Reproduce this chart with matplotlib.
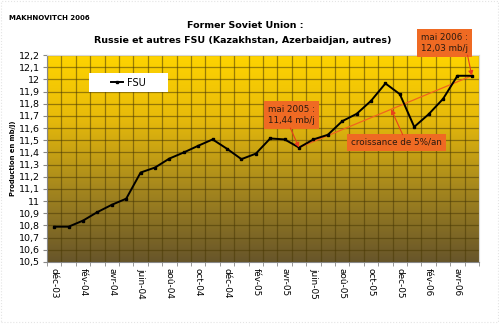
import numpy as np
import matplotlib
matplotlib.use("Agg")
import matplotlib.pyplot as plt
from matplotlib.colors import LinearSegmentedColormap
from matplotlib.patches import Rectangle

# Monthly production, déc-03 .. mai-06 (mb/j)
months = ["déc-03", "janv-04", "fév-04", "mars-04", "avr-04", "mai-04", "juin-04",
          "juil-04", "aoû-04", "sept-04", "oct-04", "nov-04", "déc-04", "janv-05",
          "fév-05", "mars-05", "avr-05", "mai-05", "juin-05", "juil-05", "aoû-05",
          "sept-05", "oct-05", "nov-05", "dec-05", "janv-06", "fév-06", "mars-06",
          "avr-06", "mai-06"]
fsu = [10.79, 10.79, 10.84, 10.91, 10.97, 11.02, 11.235, 11.276, 11.35, 11.40,
       11.455, 11.507, 11.43, 11.345, 11.39, 11.515, 11.507, 11.44, 11.507, 11.545,
       11.657, 11.717, 11.824, 11.967, 11.879, 11.61, 11.714, 11.84, 12.03, 12.03]
series_name = "FSU"
y_ticks = [round(10.5 + 0.1 * k, 1) for k in range(18)]

x = np.arange(len(months))
i0 = months.index("mai-05")
i1 = months.index("mai-06")

fig = plt.figure(figsize=(4.99, 3.24), dpi=100, facecolor="white")
ax = fig.add_axes([0.0942, 0.1914, 0.8658, 0.6386])

xlim = (-0.5, len(months) - 0.5)
ylim = (10.5, 12.2)
ax.set_xlim(*xlim)
ax.set_ylim(*ylim)

# yellow-to-brown gradient plot background
cmap = LinearSegmentedColormap.from_list(
    "bg", [(0.0, "#67552a"), (0.35, "#a4861e"), (0.7, "#e8bb0a"), (1.0, "#ffd400")])
grad = np.linspace(0, 1, 256).reshape(-1, 1)
ax.imshow(grad, aspect="auto", cmap=cmap, origin="lower",
          extent=(*xlim, *ylim), zorder=0)

# grid: every 0.1 horizontally, one cell per month vertically
for yv in y_ticks:
    ax.axhline(yv, color="#4a3a05", lw=0.9, alpha=0.55, zorder=1)
for xv in np.arange(-0.5, len(months), 1.0):
    ax.axvline(xv, color="#4a3a05", lw=0.9, alpha=0.55, zorder=1)

# 5%/an growth line between the two annotated months
ax.plot([i0, i1], [fsu[i0], fsu[i1]], color="#f0641e", lw=0.9, zorder=2)

line, = ax.plot(x, fsu, color="black", lw=1.4, marker="s", ms=1.8, zorder=3,
                label=series_name)

ax.set_yticks(y_ticks)
ax.set_yticklabels([("%g" % v).replace(".", ",") for v in y_ticks], fontsize=6.8)
ax.set_xticks(x[::2])
ax.set_xticklabels(months[::2], rotation=-90, fontsize=6.4)
ax.set_xticks(np.arange(-0.5, len(months), 1.0), minor=True)
ax.tick_params(axis="x", which="major", length=0, pad=4)
ax.tick_params(axis="x", which="minor", length=3, color="#888888")
ax.tick_params(axis="y", length=3, color="#888888", pad=2)
for s in ["top", "right"]:
    ax.spines[s].set_color("#d8d8d8")
for s in ["left", "bottom"]:
    ax.spines[s].set_color("#888888")

ax.set_ylabel("Production en mb/j)", fontsize=4.9, fontweight="bold", labelpad=2)

# legend on a white panel
ax.add_patch(Rectangle((0.097, 0.82), 0.183, 0.094, transform=ax.transAxes,
                       facecolor="white", edgecolor="none", zorder=4))
ax.legend(handles=[line], loc="center", bbox_to_anchor=(0.1885, 0.867),
          frameon=False, fontsize=7, handlelength=1.3, handletextpad=0.4,
          borderaxespad=0).set_zorder(5)

# annotations
box = dict(boxstyle="square,pad=0.45", facecolor="#ef6a23", edgecolor="none")
arrow = dict(arrowstyle="-|>", color="#e8401c", lw=0.8, mutation_scale=7,
             shrinkA=0, shrinkB=0)

ax.text(14.85, 11.706, "mai 2005 :\n11,44 mb/j", fontsize=6.3, color="#2a1a10",
        va="center", ha="left", bbox=box, zorder=6, linespacing=1.3)
ax.annotate("", xy=(i0, fsu[i0]), xytext=(16.4, 11.6), arrowprops=arrow, zorder=6)

ax.text(20.6, 11.484, "croissance de 5%/an", fontsize=6.3, color="#2a1a10",
        va="center", ha="left", bbox=box, zorder=6)
t = 23.4
trend_y = fsu[i0] + (fsu[i1] - fsu[i0]) * (t - i0) / (i1 - i0)
ax.annotate("", xy=(t, trend_y), xytext=(24.2, 11.545), arrowprops=arrow, zorder=6)

ax.text(25.45, 12.3, "mai 2006 :\n12,03 mb/j", fontsize=6.3, color="#2a1a10",
        va="center", ha="left", bbox=box, zorder=6, linespacing=1.3, clip_on=False)
ax.annotate("", xy=(i1, fsu[i1]), xytext=(28.7, 12.2), arrowprops=arrow, zorder=6,
            annotation_clip=False)

# titles
fig.text(0.491, 0.922, "Former Soviet Union :", ha="center", va="center",
         fontsize=6.8, fontweight="bold")
fig.text(0.486, 0.875, "Russie et autres FSU (Kazakhstan, Azerbaidjan, autres)",
         ha="center", va="center", fontsize=6.8, fontweight="bold")
fig.text(0.018, 0.944, "MAKHNOVITCH 2006", ha="left", va="center",
         fontsize=5, fontweight="bold")

# faint dotted frame around the figure
fig.add_artist(Rectangle((0.003, 0.006), 0.994, 0.99, transform=fig.transFigure,
                         fill=False, edgecolor="#e4e4e4", lw=0.8, ls=":"))

fig.savefig("out.png", dpi=100, facecolor="white")
